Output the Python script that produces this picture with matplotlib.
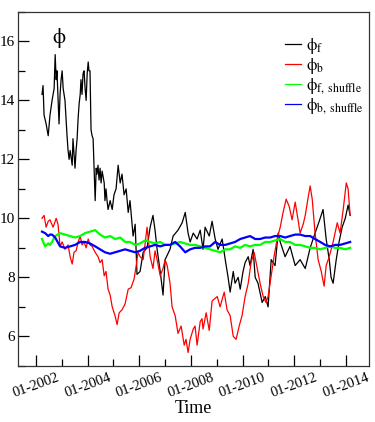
import matplotlib
matplotlib.use("Agg")
import matplotlib.pyplot as plt
from matplotlib.ticker import MultipleLocator

plt.rcParams['font.family'] = ['Liberation Serif', 'DejaVu Serif']
plt.rcParams['mathtext.fontset'] = 'stix'

# phi_f (black)
phi_f_t = [2002.23, 2002.27, 2002.31, 2002.39, 2002.47, 2002.54, 2002.62, 2002.70, 2002.74, 2002.78,
           2002.81, 2002.89, 2002.93, 2002.97, 2003.01, 2003.05, 2003.12, 2003.16, 2003.20, 2003.24,
           2003.28, 2003.32, 2003.40, 2003.43, 2003.47, 2003.51, 2003.55, 2003.59, 2003.63, 2003.67,
           2003.71, 2003.74, 2003.78, 2003.82, 2003.86, 2003.90, 2003.94, 2003.98, 2004.02, 2004.05,
           2004.09, 2004.13, 2004.17, 2004.21, 2004.29, 2004.33, 2004.36, 2004.40, 2004.44, 2004.48,
           2004.52, 2004.56, 2004.64, 2004.67, 2004.71, 2004.75, 2004.79, 2004.87, 2004.95, 2005.02,
           2005.10, 2005.18, 2005.26, 2005.33, 2005.41, 2005.49, 2005.57, 2005.64, 2005.76, 2005.84,
           2005.91, 2006.03, 2006.15, 2006.30, 2006.42, 2006.53, 2006.61, 2006.69, 2006.81, 2006.92,
           2007.00, 2007.19, 2007.31, 2007.50, 2007.66, 2007.78, 2007.89, 2007.97, 2008.09, 2008.24,
           2008.36, 2008.47, 2008.55, 2008.71, 2008.82, 2008.94, 2009.05, 2009.21, 2009.33, 2009.44,
           2009.52, 2009.64, 2009.71, 2009.83, 2009.91, 2010.02, 2010.10, 2010.22, 2010.29, 2010.41,
           2010.49, 2010.60, 2010.76, 2010.88, 2010.99, 2011.11, 2011.26, 2011.38, 2011.46, 2011.65,
           2011.84, 2012.04, 2012.23, 2012.43, 2012.62, 2012.81, 2012.97, 2013.12, 2013.24, 2013.36,
           2013.43, 2013.51, 2013.63, 2013.74, 2013.86, 2013.98, 2014.09, 2014.17]
phi_f_v = [14.2, 14.5, 13.5, 13.2, 12.8, 13.5, 14.0, 14.4, 15.55, 14.7,
           15.0, 13.2, 14.2, 14.7, 15.0, 14.4, 14.0, 13.4, 12.8, 12.3,
           12.0, 12.3, 11.8, 12.7, 12.2, 11.7, 12.3, 12.7, 13.4, 13.9,
           14.2, 14.7, 14.2, 14.9, 15.0, 14.4, 14.0, 14.9, 15.3, 15.0,
           15.0, 13.0, 12.8, 12.7, 10.6, 11.7, 11.5, 11.8, 11.3, 11.7,
           11.2, 11.6, 11.2, 10.6, 11.0, 10.6, 10.3, 10.6, 10.3, 10.8,
           11.0, 11.8, 11.2, 11.5, 10.8, 11.0, 10.2, 10.6, 9.4, 9.8,
           8.1, 8.2, 8.85, 9.0, 9.7, 10.1, 9.6, 8.95, 8.2, 7.4,
           8.6, 8.95, 9.4, 9.6, 9.85, 10.2, 9.5, 9.2, 9.5, 9.3,
           9.6, 8.95, 9.7, 9.4, 9.9, 9.3, 8.95, 9.3, 8.6, 8.0,
           7.5, 8.2, 7.8, 8.0, 7.6, 8.2, 8.5, 8.7, 8.4, 8.95,
           8.0, 7.8, 7.15, 7.35, 7.0, 8.6, 8.4, 9.5, 9.2, 8.7,
           9.05, 8.4, 8.6, 8.3, 9.0, 9.5, 9.9, 10.3, 9.3, 8.6,
           8.0, 7.8, 8.6, 9.2, 9.7, 10.0, 10.45, 10.1]

# phi_b (red)
phi_b_t = [2002.23, 2002.31, 2002.39, 2002.47, 2002.54, 2002.66, 2002.78, 2002.85, 2002.93, 2003.01,
           2003.12, 2003.24, 2003.32, 2003.40, 2003.47, 2003.55, 2003.63, 2003.71, 2003.78, 2003.86,
           2003.94, 2004.02, 2004.09, 2004.17, 2004.29, 2004.40, 2004.48, 2004.56, 2004.64, 2004.71,
           2004.79, 2004.87, 2004.95, 2005.06, 2005.14, 2005.22, 2005.33, 2005.45, 2005.57, 2005.68,
           2005.80, 2005.88, 2005.95, 2006.03, 2006.15, 2006.22, 2006.30, 2006.42, 2006.53, 2006.61,
           2006.69, 2006.81, 2006.92, 2007.00, 2007.08, 2007.19, 2007.27, 2007.39, 2007.50, 2007.62,
           2007.74, 2007.81, 2007.89, 2007.97, 2008.09, 2008.16, 2008.24, 2008.36, 2008.43, 2008.47,
           2008.59, 2008.71, 2008.82, 2009.02, 2009.13, 2009.29, 2009.40, 2009.52, 2009.64, 2009.75,
           2009.87, 2009.98, 2010.10, 2010.22, 2010.33, 2010.45, 2010.57, 2010.68, 2010.80, 2010.91,
           2010.99, 2011.11, 2011.22, 2011.34, 2011.46, 2011.57, 2011.69, 2011.81, 2011.92, 2012.04,
           2012.16, 2012.23, 2012.35, 2012.43, 2012.54, 2012.62, 2012.70, 2012.81, 2012.93, 2013.05,
           2013.16, 2013.24, 2013.36, 2013.51, 2013.67, 2013.78, 2013.90, 2014.02, 2014.09, 2014.17]
phi_b_v = [10.0, 10.1, 9.7, 9.9, 9.95, 9.7, 10.0, 9.8, 9.05, 9.2,
           8.95, 9.1, 8.7, 8.45, 8.85, 8.9, 9.2, 9.4, 9.1, 9.2,
           9.0, 9.3, 9.1, 9.05, 8.85, 8.7, 8.5, 8.6, 8.05, 8.2,
           7.6, 7.4, 7.0, 6.7, 6.4, 6.8, 6.9, 7.1, 7.6, 7.65,
           7.95, 8.4, 8.85, 8.7, 8.6, 9.1, 9.7, 8.7, 8.3, 8.9,
           8.6, 8.05, 8.3, 8.6, 8.4, 7.8, 7.0, 6.7, 6.1, 6.35,
           5.7, 5.9, 5.45, 5.9, 6.25, 6.35, 5.7, 6.5, 6.6, 6.25,
           6.8, 6.2, 7.2, 7.35, 7.0, 7.5, 6.9, 6.7, 6.0, 5.9,
           6.35, 6.7, 7.35, 7.8, 8.5, 8.85, 8.3, 7.8, 7.35, 7.15,
           7.35, 8.05, 8.7, 9.3, 9.7, 10.2, 10.65, 10.4, 9.95, 10.55,
           9.9, 9.5, 9.8, 10.1, 10.7, 11.1, 10.65, 9.5, 8.6, 8.2,
           7.7, 8.4, 8.7, 9.2, 9.85, 9.5, 10.3, 11.2, 11.0, 10.1]

# shuffled series (green, blue) share one time grid
shuffle_t = [2002.23, 2002.35, 2002.47, 2002.54, 2002.62, 2002.74, 2002.93, 2003.12, 2003.32, 2003.51,
             2003.71, 2003.90, 2004.09, 2004.29, 2004.48, 2004.67, 2004.87, 2005.06, 2005.26, 2005.45,
             2005.64, 2005.84, 2006.03, 2006.22, 2006.42, 2006.61, 2006.81, 2007.00, 2007.19, 2007.39,
             2007.58, 2007.78, 2007.97, 2008.16, 2008.36, 2008.55, 2008.74, 2008.94, 2009.13, 2009.33,
             2009.52, 2009.71, 2009.91, 2010.10, 2010.29, 2010.49, 2010.68, 2010.88, 2011.07, 2011.26,
             2011.46, 2011.65, 2011.84, 2012.04, 2012.23, 2012.43, 2012.62, 2012.81, 2013.01, 2013.20,
             2013.40, 2013.59, 2013.78, 2013.98, 2014.17]
phi_f_shuffle = [9.3, 9.05, 9.15, 9.1, 9.2, 9.4, 9.5, 9.45, 9.4, 9.35,
                 9.4, 9.5, 9.55, 9.6, 9.45, 9.35, 9.4, 9.3, 9.35, 9.2,
                 9.2, 9.1, 9.15, 9.25, 9.2, 9.15, 9.2, 9.1, 9.1, 9.15,
                 9.2, 9.15, 9.1, 9.1, 9.05, 9.0, 8.95, 8.9, 8.85, 8.95,
                 8.95, 9.05, 9.0, 9.1, 9.05, 9.1, 9.1, 9.2, 9.2, 9.25,
                 9.3, 9.2, 9.2, 9.1, 9.1, 9.05, 9.0, 9.0, 8.95, 9.0,
                 9.05, 9.0, 9.0, 8.95, 9.0]
phi_b_shuffle = [9.55, 9.5, 9.4, 9.45, 9.45, 9.35, 9.05, 9.0, 9.05, 9.1,
                 9.2, 9.2, 9.15, 9.05, 8.95, 8.85, 8.8, 8.85, 8.9, 8.95,
                 8.9, 8.85, 8.9, 9.0, 9.05, 9.1, 9.05, 9.1, 9.1, 9.2,
                 9.05, 8.85, 8.95, 9.0, 9.0, 9.05, 9.05, 9.2, 9.1, 9.1,
                 9.15, 9.2, 9.3, 9.35, 9.4, 9.3, 9.3, 9.35, 9.35, 9.4,
                 9.4, 9.35, 9.4, 9.45, 9.45, 9.4, 9.4, 9.3, 9.2, 9.1,
                 9.05, 9.1, 9.1, 9.15, 9.2]

year_ticks = [2002, 2004, 2006, 2008, 2010, 2012, 2014]
year_labels = ['01-2002', '01-2004', '01-2006', '01-2008', '01-2010', '01-2012', '01-2014']

fig = plt.figure(figsize=(3.75, 4.22), dpi=100)
ax = fig.add_axes([0.048, 0.133, 0.936, 0.839])

ax.plot(phi_f_t, phi_f_v, color='black', lw=0.9, label=r'$\mathrm{\phi}_{\mathrm{f}}$')
ax.plot(phi_b_t, phi_b_v, color='#ff0000', lw=0.9, label=r'$\mathrm{\phi}_{\mathrm{b}}$')
ax.plot(shuffle_t, phi_f_shuffle, color='#00ff00', lw=1.6, label=r'$\mathrm{\phi}_{\mathrm{f,\ shuffle}}$')
ax.plot(shuffle_t, phi_b_shuffle, color='#0000ff', lw=1.6, label=r'$\mathrm{\phi}_{\mathrm{b,\ shuffle}}$')

ax.set_xlim(2001.3, 2014.9)
ax.set_ylim(5, 17)
ax.set_xticks(year_ticks)
ax.set_xticklabels(year_labels, rotation=20, ha='center', fontsize=10.5)
ax.xaxis.set_minor_locator(MultipleLocator(1))
ax.yaxis.set_minor_locator(MultipleLocator(1))
ax.set_yticks([6, 8, 10, 12, 14, 16])
ax.tick_params(which='both', direction='in', top=False, right=False, labelsize=11)
ax.tick_params(axis='x', labelsize=10.5, pad=4)
ax.tick_params(axis='y', pad=2)
ax.tick_params(which='major', length=8, width=0.9)
ax.tick_params(which='minor', length=5, width=0.9)
for s in ax.spines.values():
    s.set_color('#333333')
    s.set_linewidth(0.9)

ax.set_xlabel('Time', fontsize=13, labelpad=0)
ax.text(0.117, 0.925, r'$\mathrm{\phi}$', transform=ax.transAxes, fontsize=15, ha='center', va='center')

leg = ax.legend(loc='upper right', bbox_to_anchor=(1.02, 0.965), frameon=False, fontsize=12,
                handlelength=1.0, handletextpad=0.3, labelspacing=0.0, borderpad=0.2)
for ln in leg.get_lines():
    ln.set_linewidth(0.9)

fig.savefig('out.png', dpi=100)
